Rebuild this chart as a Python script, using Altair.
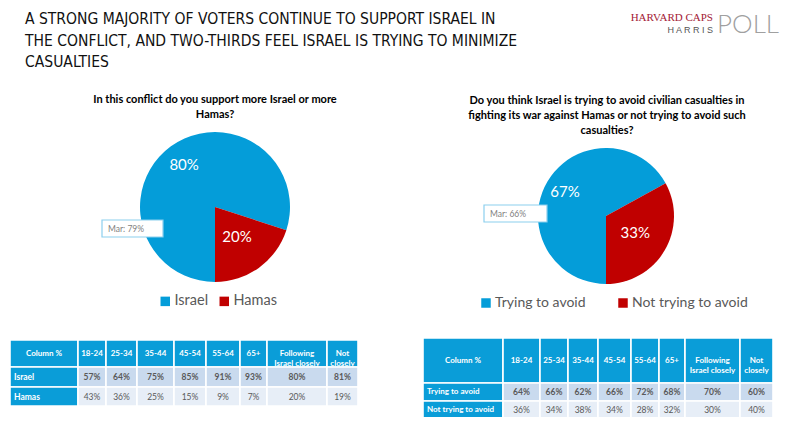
import math
import altair as alt
import pandas as pd

# ---------------- data ----------------
title_lines = [
    "A STRONG MAJORITY OF VOTERS CONTINUE TO SUPPORT ISRAEL IN",
    "THE CONFLICT, AND TWO-THIRDS FEEL ISRAEL IS TRYING TO MINIMIZE",
    "CASUALTIES",
]
q1_title = ["In this conflict do you support more Israel or more", "Hamas?"]
q1_categories = ["Israel", "Hamas"]
q1_values = [80, 20]
q1_march = 79

q2_title = ["Do you think Israel is trying to avoid civilian casualties in",
            "fighting its war against Hamas or not trying to avoid such",
            "casualties?"]
q2_categories = ["Trying to avoid", "Not trying to avoid"]
q2_values = [67, 33]
q2_march = 66

table_corner = "Column %"
table_columns = ["18-24", "25-34", "35-44", "45-54", "55-64", "65+",
                 "Following\nIsrael closely", "Not\nclosely"]
t1_rows = ["Israel", "Hamas"]
t1_israel = [57, 64, 75, 85, 91, 93, 80, 81]
t1_hamas = [43, 36, 25, 15, 9, 7, 20, 19]
t2_rows = ["Trying to avoid", "Not trying to avoid"]
t2_trying = [64, 66, 62, 66, 72, 68, 70, 60]
t2_not = [36, 34, 38, 34, 28, 32, 30, 40]

# ---------------- style / layout ----------------
BLUE = "#049DD9"
RED = "#C00000"
HEAD = "#0A9DD8"
ROW1 = "#C9DAEE"
ROW2 = "#E7EEF7"
GRAY = "#595959"
FONT = "Lato"
TITLE_FONT = "'Liberation Sans Narrow', 'DejaVu Sans Condensed', 'Roboto Condensed', 'Liberation Sans', sans-serif"
W, H = 784, 409
M = 8  # page margin


def P(v):
    return v - M


def pie(cats, vals, march, cx, cy, r, lx, ly, colpad, box, lfs):
    df = pd.DataFrame({"cat": cats, "value": vals, "ord": [1, 0]})
    start = math.pi - 2 * math.pi * vals[1] / sum(vals)
    theta = alt.Theta("value:Q", stack=True,
                      scale=alt.Scale(range=[start, start + 2 * math.pi]))
    base = alt.Chart(df).encode(theta=theta, order=alt.Order("ord:Q"))
    arcs = base.mark_arc(radius=r).encode(
        color=alt.Color("cat:N", scale=alt.Scale(domain=cats, range=[BLUE, RED]),
                        legend=alt.Legend(orient="none", legendX=lx, legendY=ly,
                                          direction="horizontal", title=None,
                                          symbolType="square", symbolSize=90,
                                          symbolStrokeWidth=0, labelFont=FONT,
                                          labelFontSize=lfs, labelColor=GRAY,
                                          labelOffset=2, columnPadding=colpad)),
        x=alt.value(cx), y=alt.value(cy))
    big = base.mark_text(radius=0.7 * r, font=FONT, fontSize=15, color="white").encode(
        text="t:N", x=alt.value(cx), y=alt.value(cy)
    ).transform_calculate(t=f"datum.cat == '{cats[0]}' ? datum.value + '%' : ''")
    small = base.mark_text(radius=0.5 * r, font=FONT, fontSize=15, color="white").encode(
        text="t:N", x=alt.value(cx), y=alt.value(cy)
    ).transform_calculate(t=f"datum.cat == '{cats[1]}' ? datum.value + '%' : ''")
    mdf = pd.DataFrame({"m": [march]})
    bx0, by0, bx1, by1 = box
    mbox = alt.Chart(mdf).mark_rect(fill="white", stroke="#8CCFEE", strokeWidth=1.2).encode(
        x=alt.value(bx0), x2=alt.value(bx1), y=alt.value(by0), y2=alt.value(by1))
    mtxt = alt.Chart(mdf).mark_text(font=FONT, fontSize=8.5, color="#7F7F7F", align="left",
                                    baseline="middle").encode(
        text="t:N", x=alt.value(bx0 + 6), y=alt.value((by0 + by1) / 2)
    ).transform_calculate(t="'Mar: ' + datum.m + '%'")
    return alt.layer(arcs, big, small, mbox, mtxt)


def table(row_labels, rows, col_widths, row_heights, left, top, fs, hfs, lfs):
    xs = [0]
    for w in col_widths:
        xs.append(xs[-1] + w)
    ys = [0]
    for h in row_heights:
        ys.append(ys[-1] + h)
    recs = []
    header = [table_corner] + table_columns
    for j, t in enumerate(header):
        recs.append({"x0": xs[j], "x1": xs[j + 1], "y0": ys[0], "y1": ys[1],
                     "kind": "head", "t": t})
    for i, (lab, vals) in enumerate(zip(row_labels, rows)):
        recs.append({"x0": xs[0], "x1": xs[1], "y0": ys[i + 1], "y1": ys[i + 2],
                     "kind": "label", "t": lab})
        for j, v in enumerate(vals):
            recs.append({"x0": xs[j + 1], "x1": xs[j + 2], "y0": ys[i + 1], "y1": ys[i + 2],
                         "kind": f"r{i + 1}", "t": f"{v}%"})
    df = pd.DataFrame(recs)
    xsc = alt.Scale(domain=[0, xs[-1]], range=[left, left + xs[-1]], nice=False, zero=False)
    ysc = alt.Scale(domain=[0, ys[-1]], range=[top, top + ys[-1]], nice=False, zero=False)
    base = alt.Chart(df).transform_calculate(
        cx="(datum.x0 + datum.x1) / 2", cy="(datum.y0 + datum.y1) / 2")
    rects = base.mark_rect(stroke="white", strokeWidth=1.6).encode(
        x=alt.X("x0:Q", scale=xsc, axis=None), x2="x1:Q",
        y=alt.Y("y0:Q", scale=ysc, axis=None), y2="y1:Q",
        color=alt.Color("kind:N", scale=alt.Scale(domain=["head", "label", "r1", "r2"],
                                                  range=[HEAD, HEAD, ROW1, ROW2]),
                        legend=None))
    def txt(kind, size, **kw):
        xf = "x0:Q" if kind == "label" else "cx:Q"
        return base.transform_filter(f"datum.kind == '{kind}'").mark_text(
            font=FONT, fontSize=size, baseline="middle", lineBreak="\n", lineHeight=size + 2.5, **kw
        ).encode(x=alt.X(xf, scale=xsc, axis=None),
                 y=alt.Y("cy:Q", scale=ysc, axis=None), text="t:N")
    head = txt("head", hfs, color="white", fontWeight="bold", align="center")
    lab = txt("label", lfs, color="white", fontWeight="bold", align="left", dx=4)
    r1 = txt("r1", fs, color=GRAY, fontWeight="bold", align="center")
    r2 = txt("r2", fs, color=GRAY, align="center")
    return alt.layer(rects, head, lab, r1, r2)


one = pd.DataFrame({"a": [0]})

title = alt.Chart(one).mark_text(
    text=title_lines, font=TITLE_FONT, fontSize=15.5, lineHeight=21.5,
    align="left", baseline="alphabetic", color="#111111"
).encode(x=alt.value(P(25)), y=alt.value(P(24)))

logo1 = alt.Chart(one).mark_text(text="HARVARD CAPS", font="Liberation Serif", fontSize=11,
                                 color="#A32035", align="right", baseline="alphabetic"
                                 ).encode(x=alt.value(P(713)), y=alt.value(P(21)))
logo2 = alt.Chart(one).mark_text(text="H A R R I S", font="Liberation Sans", fontSize=9,
                                 color="#555555", align="right",
                                 baseline="alphabetic"
                                 ).encode(x=alt.value(P(713)), y=alt.value(P(33)))
logo3 = alt.Chart(one).mark_text(text="POLL", font=FONT, fontSize=26, fontWeight=300,
                                 color="#A0A0A0", align="right", baseline="alphabetic"
                                 ).encode(x=alt.value(P(779)), y=alt.value(P(33)))

qt1 = alt.Chart(one).mark_text(text=q1_title, font=FONT, fontSize=11, fontWeight="bold",
                               lineHeight=14.5, align="center", baseline="alphabetic",
                               color="black").encode(x=alt.value(P(215)), y=alt.value(P(103)))
qt2 = alt.Chart(one).mark_text(text=q2_title, font=FONT, fontSize=11, fontWeight="bold",
                               lineHeight=15, align="center", baseline="alphabetic",
                               color="black").encode(x=alt.value(P(607)), y=alt.value(P(104)))

pie1 = pie(q1_categories, q1_values, q1_march, P(215), P(207), 75,
           P(158), P(294), 8, (P(102), P(220), P(163), P(237)), 14.5)
pie2 = pie(q2_categories, q2_values, q2_march, P(606), P(216), 68,
           P(479), P(296), 30, (P(484), P(205), P(547), P(222)), 14)

tab1 = table(t1_rows, [t1_israel, t1_hamas],
             [68, 28, 31, 37, 32, 34, 27, 60, 31], [27, 20, 19], P(10), P(340), 8.5, 8, 8.5)
tab2 = table(t2_rows, [t2_trying, t2_not],
             [80, 37, 28, 30, 33, 28, 26, 55, 33], [45, 18, 17], P(423), P(338), 8.5, 8, 8)

chart = alt.layer(title, logo1, logo2, logo3, qt1, qt2, pie1, pie2, tab1, tab2).resolve_scale(
    x="independent", y="independent", theta="independent", color="independent"
).properties(
    width=W, height=H, padding=0, autosize=alt.AutoSizeParams(type="none")
).configure_view(stroke=None)

chart.save("out.html", embed_options={"renderer": "svg", "actions": False})
